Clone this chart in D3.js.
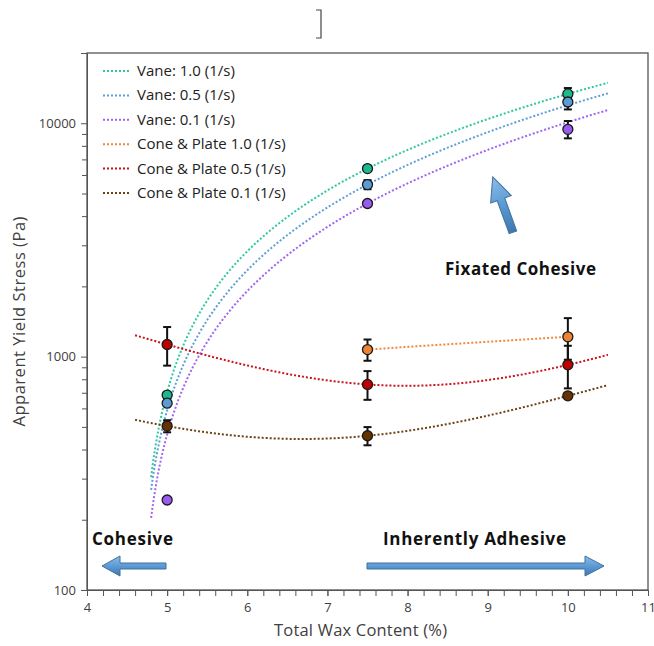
<!DOCTYPE html>
<html>
<head>
<meta charset="utf-8">
<script src="https://cdn.jsdelivr.net/npm/d3@7"></script>
<style>
  body { margin: 0; background: #fff; }
  svg { display: block; font-family: "Open Sans", Lato, sans-serif; }
  .axis path, .axis line { stroke: #555; }
  .axis text { fill: #404040; font-size: 13px; font-family: "Open Sans", sans-serif; }
</style>
</head>
<body>
<div class="svg-container"></div>
<script>
// wax content (%) where the samples were measured
const waxContent = [5, 7.5, 10];

// mean apparent yield stress (Pa), null = not plotted
const vane10 = [684, 6394, 13355];
const vane05 = [632, 5460, 12330];
const vane01 = [243, 4530, 9420];
const cone10 = [null, 1072, 1216];
const cone05 = [1127, 760, 922];
const cone01 = [504, 458, 679];

// error bar half widths (Pa), 0 = none shown
const vane10Err = [0, 0, 800];
const vane05Err = [0, 245, 870];
const vane01Err = [0, 0, 805];
const cone10Err = [0, 112, 246];
const cone05Err = [212, 107, 191];
const cone01Err = [30, 41, 0];

// trendline values at the same wax contents (poly order 2)
const vane10Trend = [705, 6394, 13355];
const vane05Trend = [589, 5460, 11940];
const vane01Trend = [464, 4530, 10100];
const cone10Trend = [null, 1072, 1216];
const cone05Trend = [1127, 760, 922];
const cone01Trend = [504, 458, 679];

const seriesNames = ['Vane: 1.0 (1/s)', 'Vane: 0.5 (1/s)', 'Vane: 0.1 (1/s)',
  'Cone & Plate 1.0 (1/s)', 'Cone & Plate 0.5 (1/s)', 'Cone & Plate 0.1 (1/s)'];
const yTickLabels = [100, 1000, 10000];
const xTickLabels = [4, 5, 6, 7, 8, 9, 10, 11];

const series = [
  {name: seriesNames[0], vals: vane10, err: vane10Err, trend: vane10Trend, span: [4.8, 10.5], line: '#2ec9a0', fill: '#1cb98c'},
  {name: seriesNames[1], vals: vane05, err: vane05Err, trend: vane05Trend, span: [4.8, 10.5], line: '#5f9fd8', fill: '#5b9bd5'},
  {name: seriesNames[2], vals: vane01, err: vane01Err, trend: vane01Trend, span: [4.8, 10.5], line: '#9e66f2', fill: '#9a5cf0'},
  {name: seriesNames[3], vals: cone10, err: cone10Err, trend: cone10Trend, span: [7.5, 10], line: '#f0883e', fill: '#ee8433'},
  {name: seriesNames[4], vals: cone05, err: cone05Err, trend: cone05Trend, span: [4.6, 10.5], line: '#c8141e', fill: '#c00000'},
  {name: seriesNames[5], vals: cone01, err: cone01Err, trend: cone01Trend, span: [4.6, 10.5], line: '#6e4216', fill: '#663300'}
];

// Excel-like polynomial trendline through the given trend values
function polyThrough(pts) {
  return x => d3.sum(pts, (p, i) => {
    let t = p[1];
    pts.forEach((q, j) => { if (j !== i) t *= (x - q[0]) / (p[0] - q[0]); });
    return t;
  });
}

const margin = {top: 53, right: 6, bottom: 56, left: 87};
const width = 654 - margin.left - margin.right;
const height = 646 - margin.top - margin.bottom;

const xScale = d3.scaleLinear().domain([4, 11]).range([0, width]);
const yScale = d3.scaleLog().domain([100, 20000]).range([height, 0]);

const root = d3.select('.svg-container').append('svg')
  .attr('width', 654).attr('height', 646);

// stray bracket at the top of the figure
root.append('path')
  .attr('d', 'M316,10 H321 V38 H316')
  .attr('fill', 'none').attr('stroke', '#444').attr('stroke-width', 1.2);

const svg = root.append('g')
  .attr('transform', `translate(${margin.left}, ${margin.top})`);

svg.append('clipPath').attr('id', 'plot-clip')
  .append('rect').attr('width', width).attr('height', height);

// axes
const minorY = [];
[100, 1000, 10000].forEach(dec => { for (let k = 2; k <= 9; k++) if (dec * k < 20000) minorY.push(dec * k); });
svg.append('g').attr('class', 'y axis minor')
  .call(d3.axisLeft(yScale).tickValues(minorY).tickSize(5).tickFormat(''))
  .call(g => g.select('.domain').remove());
svg.append('g').attr('class', 'y axis')
  .call(d3.axisLeft(yScale).tickValues(yTickLabels).tickSize(6).tickPadding(5).tickFormat(d3.format('d')));

const minorX = d3.range(4, 11.001, 0.2);
svg.append('g').attr('class', 'x axis minor')
  .attr('transform', `translate(0, ${height})`)
  .call(d3.axisBottom(xScale).tickValues(minorX).tickSize(6).tickFormat(''));
svg.append('g').attr('class', 'x axis')
  .attr('transform', `translate(0, ${height})`)
  .call(d3.axisBottom(xScale).tickValues(xTickLabels).tickSize(6).tickPadding(7).tickFormat(d3.format('d')));

svg.append('rect')
  .attr('width', width).attr('height', height)
  .attr('fill', 'none').attr('stroke', '#555').attr('stroke-width', 1.3);

// axis titles
svg.append('text')
  .attr('x', width / 2 - 7).attr('y', height + 46)
  .attr('text-anchor', 'middle').attr('font-size', 16.5).attr('fill', '#404040')
  .attr('textLength', 173)
  .text('Total Wax Content (%)');
svg.append('text')
  .attr('transform', `translate(${-62}, ${height / 2}) rotate(-90)`)
  .attr('text-anchor', 'middle').attr('font-size', 16.5).attr('fill', '#404040')
  .attr('textLength', 210)
  .text('Apparent Yield Stress (Pa)');

// trendlines
const plot = svg.append('g').attr('clip-path', 'url(#plot-clip)');
const line = d3.line().x(d => xScale(d[0])).y(d => yScale(d[1]));
series.forEach(s => {
  const pts = waxContent.map((x, i) => [x, s.trend[i]]).filter(p => p[1] != null);
  const f = polyThrough(pts);
  const samples = d3.range(s.span[0], s.span[1] + 1e-9, 0.01)
    .map(x => [x, f(x)]).filter(p => p[1] > 0);
  plot.append('path')
    .datum(samples)
    .attr('d', line)
    .attr('fill', 'none')
    .attr('stroke', s.line)
    .attr('stroke-width', 2)
    .attr('stroke-dasharray', '2 2');
});

// error bars
series.forEach(s => {
  const rows = waxContent.map((x, i) => ({x, y: s.vals[i], e: s.err[i]}))
    .filter(d => d.y != null && d.e > 0);
  const g = svg.append('g').attr('stroke', '#111').attr('stroke-width', 2);
  rows.forEach(d => {
    const x = xScale(d.x), y1 = yScale(d.y + d.e), y2 = yScale(d.y - d.e);
    g.append('line').attr('x1', x).attr('x2', x).attr('y1', y1).attr('y2', y2);
    g.append('line').attr('x1', x - 4).attr('x2', x + 4).attr('y1', y1).attr('y2', y1);
    g.append('line').attr('x1', x - 4).attr('x2', x + 4).attr('y1', y2).attr('y2', y2);
  });
});

// points
series.forEach(s => {
  svg.append('g').selectAll('circle')
    .data(waxContent.map((x, i) => ({x, y: s.vals[i]})).filter(d => d.y != null))
    .join('circle')
    .attr('cx', d => xScale(d.x))
    .attr('cy', d => yScale(d.y))
    .attr('r', 5)
    .attr('fill', s.fill)
    .attr('stroke', '#1a1a1a')
    .attr('stroke-width', 1.3);
});

// legend
const legend = svg.append('g').attr('transform', 'translate(16, 18)');
series.forEach((s, i) => {
  const row = legend.append('g').attr('transform', `translate(0, ${i * 24.4})`);
  row.append('line').attr('x1', 0).attr('x2', 26)
    .attr('stroke', s.line).attr('stroke-width', 2).attr('stroke-dasharray', '2 2');
  row.append('text').attr('x', 34).attr('y', 5)
    .attr('font-size', 15).attr('fill', '#222').text(s.name);
});

// annotations with block arrows
const defs = root.append('defs');
const grad = defs.append('linearGradient').attr('id', 'arrow-grad')
  .attr('x1', 0).attr('y1', 0).attr('x2', 0).attr('y2', 1);
grad.append('stop').attr('offset', '0%').attr('stop-color', '#8fbbe6');
grad.append('stop').attr('offset', '50%').attr('stop-color', '#5b9bd5');
grad.append('stop').attr('offset', '100%').attr('stop-color', '#3f77ad');

const notes = root.append('g').attr('font-weight', 'bold').attr('font-size', 17).attr('fill', '#111');
notes.append('text').attr('x', 445).attr('y', 275).attr('textLength', 151).text('Fixated Cohesive');
notes.append('text').attr('x', 92).attr('y', 545).attr('textLength', 81).text('Cohesive');
notes.append('text').attr('x', 383).attr('y', 545).attr('textLength', 183).text('Inherently Adhesive');

const arrows = root.append('g').attr('fill', 'url(#arrow-grad)').attr('stroke', '#41719c').attr('stroke-width', 1);
arrows.append('path').attr('d', 'M166,563 H120 V556 L102,566 L120,576 V569 H166 Z');
arrows.append('path').attr('d', 'M367,563 H585 V556 L604,566 L585,576 V569 H367 Z');
arrows.append('path')
  .attr('transform', 'translate(503,205) rotate(-20)')
  .attr('d', 'M-4,29 V-6 H-11 L0,-30 L11,-6 H4 V29 Z');
</script>
</body>
</html>
